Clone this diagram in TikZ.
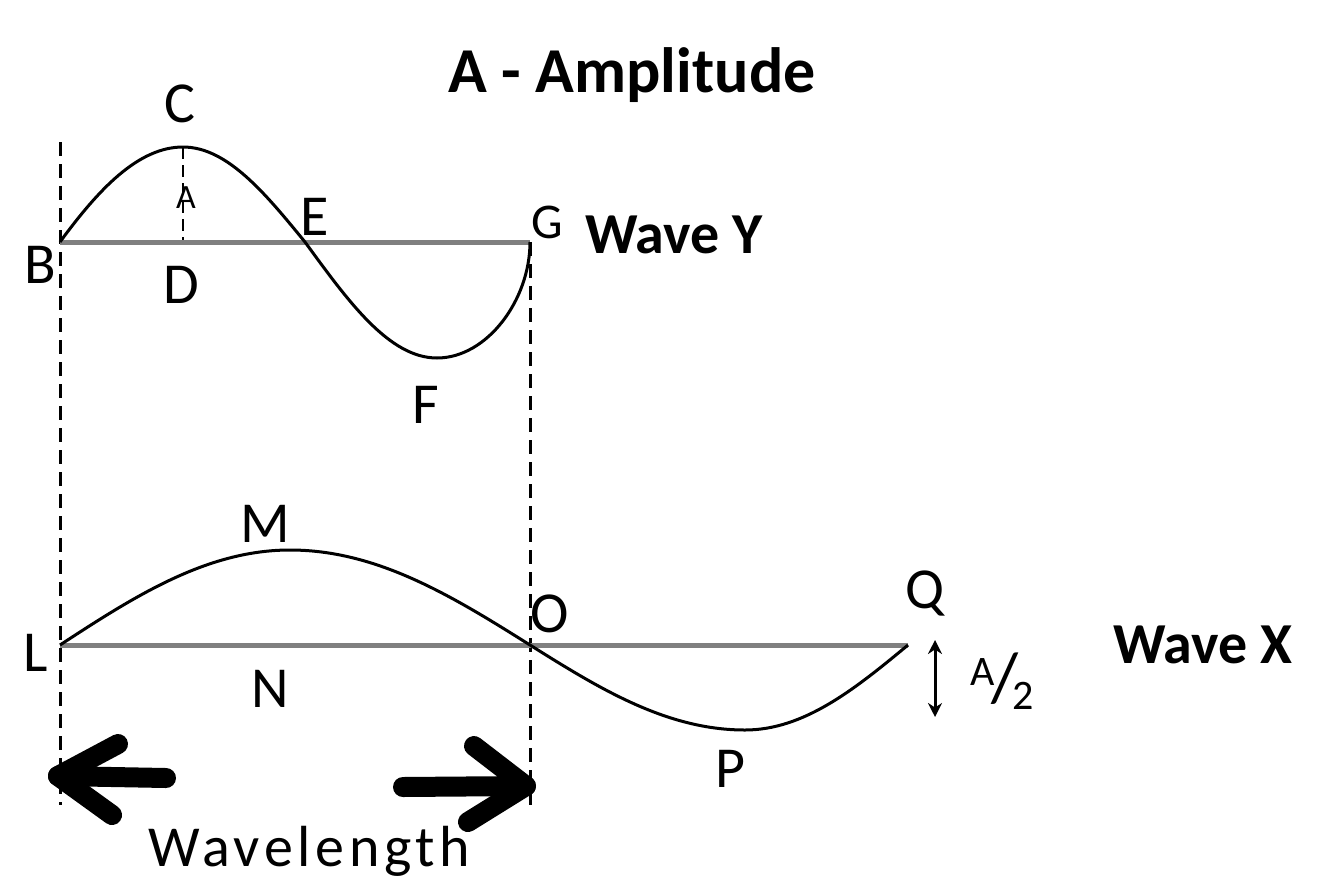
\documentclass[tikz,border=0pt]{standalone}
\usepackage{fontspec}
\setmainfont{Carlito}
\usetikzlibrary{arrows.meta}
\newcommand{\fsz}[1]{\fontsize{#1bp}{#1bp}\selectfont}
\begin{document}
\begin{tikzpicture}[x=1bp,y=-1bp,
  lbl/.style={inner sep=0pt, anchor=base, font=\fsz{58}},
  ttl/.style={inner sep=0pt, anchor=base west, font=\fsz{58}\bfseries},
  axisline/.style={draw=gray, line width=5bp},
  wave/.style={draw=black, line width=3bp},
  guide/.style={draw=black, line width=3bp, dash pattern=on 14bp off 8bp},
  bigarrow/.style={draw=black, line width=20bp, line cap=round, line join=round},
]
\useasboundingbox (0,0) rectangle (1324,884);
% key points
\coordinate (B) at (60,242);
\coordinate (C) at (183,147);
\coordinate (D) at (183,242);
\coordinate (E) at (305,242);
\coordinate (F) at (437,358);
\coordinate (G) at (530,242);
\coordinate (L) at (60,645);
\coordinate (M) at (290,550);
\coordinate (O) at (530,645);
\coordinate (P) at (745,730);
\coordinate (Q) at (908,645);
\coordinate (topL) at (60,142);
\coordinate (botL) at (60,805);
\coordinate (botR) at (530,805);
% guides
\draw[guide] (topL) -- (botL);
\draw[guide] (G) -- (botR);
\draw[draw=black, line width=2.5bp, dash pattern=on 12bp off 6bp] (C) -- (D);
% baselines
\draw[axisline] (B) -- (G);
\draw[axisline] (L) -- (Q);
% wave Y
\draw[wave] (B) .. controls (98,190) and (138,147) .. (C)
  .. controls (227,147) and (265,193) .. (E)
  .. controls (348,301) and (389,358) .. (F)
  .. controls (487,358) and (530,300) .. (G);
% wave X
\draw[wave] (L) .. controls (135,596) and (207,550) .. (M)
  .. controls (377,550) and (452,596) .. (O)
  .. controls (600,689) and (667,730) .. (P)
  .. controls (804,730) and (855,689) .. (Q);
% labels
\node[inner sep=0pt, anchor=base, font=\fsz{64}\bfseries] (title) at (632,92) {A - Amplitude};
\node[lbl] (labC) at (180,122) {C};
\node[lbl] (labB) at (40,283) {B};
\node[lbl] (labD) at (181,303) {D};
\node[lbl] (labE) at (315,235) {E};
\node[lbl, font=\fsz{50}] (labG) at (547,238) {G};
\node[lbl] (labF) at (426,423) {F};
\node[lbl, font=\fsz{34}] (labA) at (186,208) {A};
\node[ttl] (waveY) at (585,253) {Wave Y};
\node[lbl] (labM) at (265,542) {M};
\node[lbl] (labL) at (36,671) {L};
\node[lbl] (labN) at (270,707) {N};
\node[lbl] (labO) at (550,632) {O};
\node[lbl] (labQ) at (925,608) {Q};
\node[lbl] (labP) at (730,787) {P};
\node[ttl] (waveX) at (1113,663) {Wave X};
\node[inner sep=0pt, anchor=center] (half) at (1002,681)
  {\fsz{42}\raisebox{16bp}{A}\kern-4bp\fsz{70}/\kern-6bp\fsz{42}\raisebox{-8bp}{2}};
\node[inner sep=0pt, anchor=base, font=\fsz{58}\addfontfeatures{LetterSpace=8}] (wl) at (309,866) {Wavelength};
% half-amplitude arrow
\coordinate (h1) at (935,640);
\coordinate (h2) at (935,717);
\draw[line width=3bp, {Stealth[length=14bp,width=14bp]}-{Stealth[length=14bp,width=14bp]}] (h1) -- (h2);
% big wavelength arrows
\coordinate (ltip) at (58,776);
\coordinate (lshaft) at (166,778);
\coordinate (lup) at (118,744);
\coordinate (ldn) at (112,815);
\coordinate (rtip) at (526,786);
\coordinate (rshaft) at (403,787);
\coordinate (rup) at (474,746);
\coordinate (rdn) at (468,822);
\draw[bigarrow] (lshaft) -- (ltip);
\draw[bigarrow] (lup) -- (ltip) -- (ldn);
\draw[bigarrow] (rshaft) -- (rtip);
\draw[bigarrow] (rup) -- (rtip) -- (rdn);
\end{tikzpicture}
\end{document}
